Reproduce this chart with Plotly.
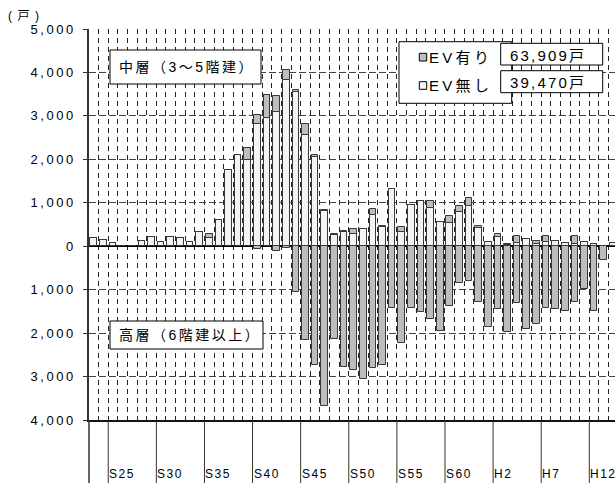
import json
import plotly.graph_objects as go

# ---- data -------------------------------------------------------------
# one bar per year, S23 (1948) through H14 (2002)
years = list(range(1948, 2003))

# mid-rise (3-5 storeys), without elevator
mid_no_ev = [180, 140, 80, 0, 0, 120, 210, 90, 220, 190,
             100, 330, 180, 600, 1750, 2110, 1980, 2820, 2950, 3100,
             3830, 3560, 2550, 2060, 800, 250, 320, 280, 400, 730,
             450, 1310, 330, 940, 1030, 880, 550, 540, 790, 920,
             420, 90, 210, 20, 80, 170, 60, 90, 110, 70,
             60, 100, 50, 0, 80]

# mid-rise (3-5 storeys), with elevator
mid_ev = [0, 0, 0, 0, 0, 0, 0, 0, 0, 0,
          0, 0, 100, 0, 0, 0, 280, 190, 540, 360,
          220, 40, 270, 30, 30, 20, 25, 115, 0, 130,
          25, 0, 105, 20, 0, 155, 0, 165, 145, 190,
          55, 0, 70, 40, 165, 0, 70, 140, 0, 0,
          185, 0, 0, 0, 0]

# high-rise (6+ storeys), with elevator; drawn below the zero line
high_ev = [0, 0, 0, 0, 0, 0, 0, 0, 0, 0,
           0, 0, 0, 0, 0, 0, 0, 60, 0, 100,
           30, 1060, 2150, 2745, 3680, 2125, 2775, 2860, 3065, 2800,
           2740, 1420, 2225, 1420, 1510, 1685, 1940, 1370, 845, 790,
           1280, 1855, 1440, 1970, 1305, 1900, 1785, 1420, 1440, 1495,
           1290, 980, 1495, 320, 0]

era_labels = ["S25", "S30", "S35", "S40", "S45", "S50", "S55", "S60", "H2", "H7", "H12"]
era_years = [1950, 1955, 1960, 1965, 1970, 1975, 1980, 1985, 1990, 1995, 2000]

y_tick_vals = [5000, 4000, 3000, 2000, 1000, 0, -1000, -2000, -3000, -4000]
y_tick_text = ["5,000", "4,000", "3,000", "2,000", "1,000", "0",
               "1,000", "2,000", "3,000", "4,000"]

total_ev_text = "63,909戸"
total_no_ev_text = "39,470戸"
unit_text = "(戸)"
mid_label = "中層（3～5階建）"
high_label = "高層（6階建以上）"

# ---- styling / geometry ----------------------------------------------
W, H = 615, 483
ML, MR, MT, MB = 89, 0, 29, 63
PW, PH = W - ML - MR, H - MT - MB
X_RANGE = [1947.5, 2002.17]

FONT = "Liberation Sans, Arial, Noto Sans CJK JP, sans-serif"
EDGE = "#383838"
GRAY = "#bdbdbd"
LIGHT = "#f4f4f4"
BAR_W = 0.69


def px(x):
    return (x - ML) / PW


def py(y):
    return (H - MB - y) / PH


def box(x0, y0, x1, y1, fill="white", width=1):
    return dict(type="rect", xref="paper", yref="paper",
                x0=px(x0), x1=px(x1), y0=py(y1), y1=py(y0),
                fillcolor=fill, line=dict(color="#000", width=width), layer="above")


def label(text, x, y, size):
    return dict(text=text, xref="paper", yref="paper", x=px(x), y=py(y),
                xanchor="left", yanchor="middle", align="left", showarrow=False,
                borderpad=0, borderwidth=0, font=dict(family=FONT, size=size, color="#000"))


fig = go.Figure()
fig.add_trace(go.Bar(x=years, y=mid_no_ev, width=BAR_W, name="EV無し",
                     marker=dict(color=LIGHT, line=dict(color=EDGE, width=1))))
fig.add_trace(go.Bar(x=years, y=mid_ev, width=BAR_W, name="EV有り",
                     marker=dict(color=GRAY, line=dict(color=EDGE, width=1))))
fig.add_trace(go.Bar(x=years, y=[-v for v in high_ev], width=BAR_W, name="EV有り（高層）",
                     marker=dict(color=GRAY, line=dict(color=EDGE, width=1))))

shapes = []
# group separators of the year axis, below the plot
for yr in era_years:
    shapes.append(dict(type="line", xref="x", yref="paper", x0=yr - 0.5, x1=yr - 0.5,
                       y0=0, y1=-0.2, line=dict(color="#333", width=1)))
shapes.append(dict(type="line", xref="paper", yref="paper", x0=0, x1=0,
                   y0=0, y1=-0.2, line=dict(color="#333", width=1.5)))

# captions and legend frames
shapes.append(box(110, 50, 261, 84))
shapes.append(box(110, 321, 263, 349))
shapes.append(box(399, 41.7, 511.7, 103.3))
shapes.append(box(500.7, 43.3, 602.7, 65))
shapes.append(box(500.7, 70.7, 602.7, 92.7))
shapes.append(box(419.3, 53.3, 426.7, 61, fill=GRAY, width=1))
shapes.append(box(419.3, 81.7, 426.7, 89.3, fill=LIGHT, width=1))

annotations = [
    label(unit_text, 8, 16, 12),
    label(mid_label, 119, 67, 14),
    label(high_label, 119, 335, 14),
    label("EV有り", 429, 57.5, 15),
    label("EV無し", 429, 85.5, 15),
    label(total_ev_text, 510, 55, 15),
    label(total_no_ev_text, 510, 82.5, 15),
]
for lab, yr in zip(era_labels, era_years):
    annotations.append(dict(text=lab, xref="x", yref="paper", x=yr - 0.5, y=py(474),
                            xanchor="left", yanchor="middle", align="left", xshift=1,
                            showarrow=False, borderpad=0, borderwidth=0,
                            font=dict(family=FONT, size=12, color="#000")))

fig.update_layout(
    width=W, height=H,
    margin=dict(l=ML, r=MR, t=MT, b=MB, pad=0),
    paper_bgcolor="white", plot_bgcolor="white",
    barmode="relative", bargap=0, showlegend=False,
    font=dict(family=FONT, size=13, color="#000"),
    shapes=shapes, annotations=annotations,
    xaxis=dict(type="linear", range=X_RANGE, tick0=1947.5, dtick=1,
               showticklabels=False, ticks="", showgrid=True,
               gridcolor="#222", gridwidth=1, griddash="5px,4px",
               showline=True, linecolor="#111", linewidth=1.5, zeroline=False),
    yaxis=dict(range=[-4000, 5000], tickvals=y_tick_vals, ticktext=y_tick_text,
               ticks="outside", ticklen=4, tickcolor="#333", tickwidth=1,
               ticklabelstandoff=5,
               tickfont=dict(family=FONT, size=13, color="#000"),
               showline=True, linecolor="#333", linewidth=1.5,
               showgrid=True, gridcolor="#444", gridwidth=1, griddash="7px,3px",
               zeroline=True, zerolinecolor="#000", zerolinewidth=1.5),
)

# wide character spacing for the captions and tick labels
spacing = {unit_text: 5.5, mid_label: 2.5, high_label: 2.5,
           "EV有り": 3.3, "EV無し": 3.3,
           total_ev_text: 2.2, total_no_ev_text: 2.2}
for lab in era_labels:
    spacing[lab] = 1.5
post_js = """
var gd = document.getElementById('{plot_id}');
var LS = %s;
function spaceText() {
  gd.querySelectorAll('text').forEach(function (t) {
    var s = t.textContent;
    var v = (s in LS) ? LS[s] : 2.5;
    t.style.letterSpacing = v + 'px';
  });
}
spaceText();
gd.on('plotly_afterplot', spaceText);
""" % json.dumps(spacing, ensure_ascii=False)

fig.write_html("out.html", config={"displayModeBar": False}, post_script=post_js)
